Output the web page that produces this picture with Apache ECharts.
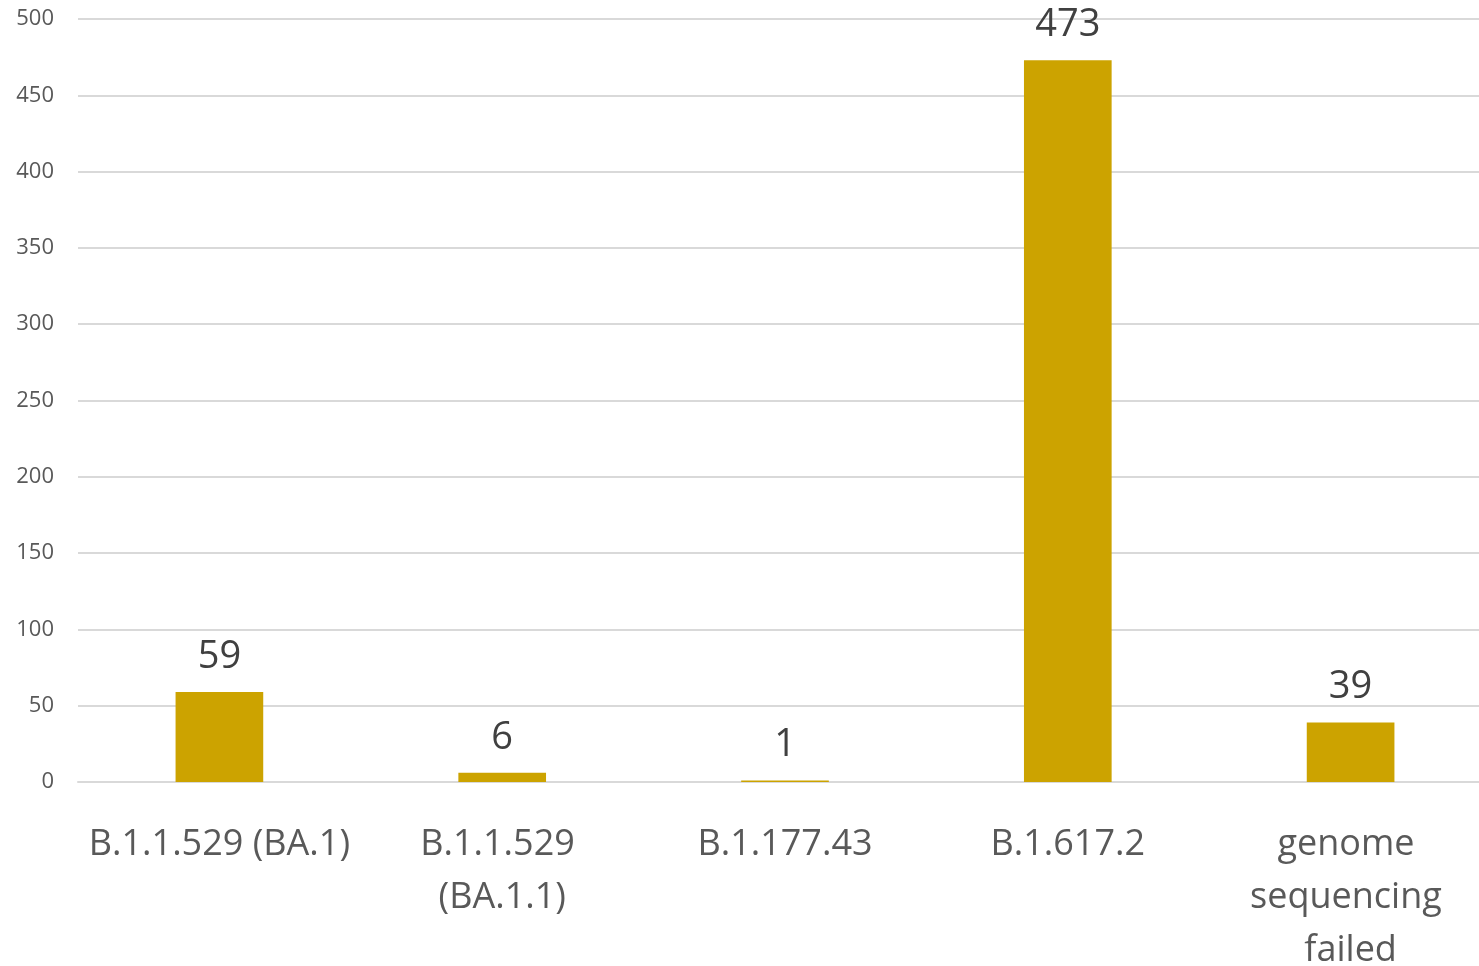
<!DOCTYPE html>
<html>
<head>
<meta charset="utf-8">
<style>
  html, body { margin: 0; padding: 0; background: #fff; }
  #chart { width: 1479px; height: 966px; }
</style>
<script src="https://cdn.jsdelivr.net/npm/echarts@6/dist/echarts.min.js"></script>
</head>
<body>
<div id="chart"></div>
<script>
var categories = ['B.1.1.529 (BA.1)', 'B.1.1.529 (BA.1.1)', 'B.1.177.43', 'B.1.617.2', 'genome sequencing failed']
var counts = [59, 6, 1, 473, 39]

var fontFamily = '"Open Sans", "Noto Sans", sans-serif'
var chart = echarts.init(document.getElementById('chart'))

chart.setOption({
  animation: false,
  grid: {
    top: 19,
    left: 78,
    right: -13,
    bottom: 184,
    containLabel: false,
    outerBoundsMode: 'none'
  },
  xAxis: {
    type: 'category',
    data: categories,
    axisLine: { show: true, lineStyle: { color: '#d9d9d9', width: 2 } },
    axisTick: { show: false },
    axisLabel: {
      interval: 0,
      margin: 36,
      color: '#595959',
      fontSize: 36,
      lineHeight: 53,
      fontFamily: fontFamily,
      width: 275,
      overflow: 'break'
    }
  },
  yAxis: {
    type: 'value',
    min: 0,
    max: 500,
    interval: 50,
    axisLine: { show: false },
    axisTick: { show: false },
    splitLine: { lineStyle: { color: '#d9d9d9', width: 2 } },
    axisLabel: {
      margin: 24,
      color: '#595959',
      fontSize: 22,
      fontFamily: fontFamily
    }
  },
  series: [{
    type: 'bar',
    data: counts,
    barWidth: '31%',
    itemStyle: { color: '#cca300' },
    label: {
      show: true,
      position: 'top',
      distance: 16,
      color: '#404040',
      fontSize: 38,
      fontFamily: fontFamily
    }
  }]
})
</script>
</body>
</html>
